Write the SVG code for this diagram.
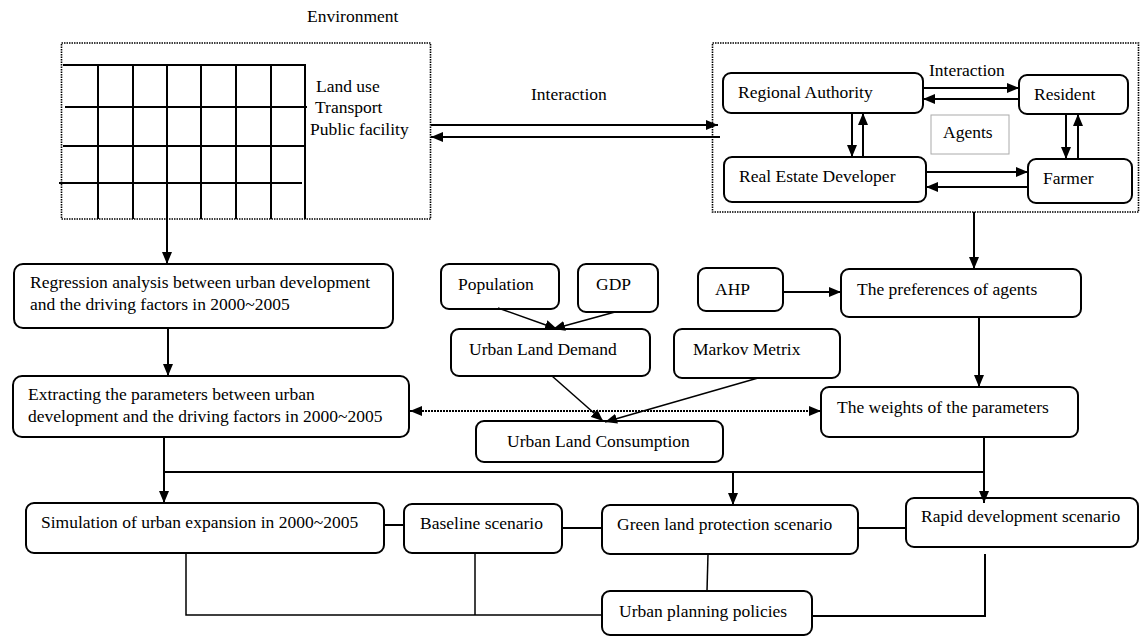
<svg xmlns="http://www.w3.org/2000/svg" width="1140" height="636" viewBox="0 0 1140 636" font-family="'Liberation Serif', 'DejaVu Serif', serif">
<style>
text{font-family:'Liberation Serif','DejaVu Serif',serif;font-size:17.5px;fill:#000}
.box{fill:#fff;stroke:#000;stroke-width:2}
.dot{fill:none;stroke:#000;stroke-width:1.6;stroke-dasharray:1.5 1}
.grid line{stroke:#000;stroke-width:2}
.c{fill:none;stroke:#000;stroke-width:2}
.t{fill:none;stroke:#000;stroke-width:1.5}
.a{marker-end:url(#ah)}
</style>
<defs>
<marker id="ah" viewBox="0 0 12 10" refX="12" refY="5" markerWidth="12" markerHeight="10" markerUnits="userSpaceOnUse" orient="auto-start-reverse"><path d="M0,0 L12,5 L0,10 z" fill="#000"/></marker>
</defs>
<rect width="1140" height="636" fill="#fff"/>

<g id="environment">
<text x="307" y="22">Environment</text>
<rect class="dot" x="61.5" y="43" width="369" height="176"/>
<g class="grid">
<line x1="63" y1="65" x2="306" y2="65"/>
<line x1="65" y1="107" x2="307" y2="107"/>
<line x1="63" y1="146" x2="305" y2="146"/>
<line x1="59" y1="183" x2="302" y2="183"/>
<line x1="98" y1="65" x2="98" y2="219"/>
<line x1="133" y1="65" x2="133" y2="219"/>
<line x1="167" y1="65" x2="167" y2="219"/>
<line x1="201" y1="65" x2="201" y2="219"/>
<line x1="236" y1="65" x2="236" y2="219"/>
<line x1="271" y1="65" x2="271" y2="219"/>
<line x1="305" y1="65" x2="305" y2="219"/>
</g>
<text x="316" y="92">Land use</text>
<text x="315" y="113">Transport</text>
<text x="310" y="135">Public facility</text>
</g>

<g id="agents-frame">
<rect class="dot" x="712.5" y="43" width="426" height="169"/>
<rect x="931" y="115" width="78" height="39" fill="#fff" stroke="#aaa" stroke-width="1"/>
<text x="943" y="138">Agents</text>
<text x="929" y="76">Interaction</text>
</g>

<g id="regional-authority"><rect class="box" x="723" y="73" width="200" height="40" rx="8"/><text x="738" y="98">Regional Authority</text></g>
<g id="resident"><rect class="box" x="1019" y="75" width="109" height="39" rx="8"/><text x="1034" y="100">Resident</text></g>
<g id="real-estate-developer"><rect class="box" x="724" y="157" width="202" height="45" rx="8"/><text x="739" y="182">Real Estate Developer</text></g>
<g id="farmer"><rect class="box" x="1028" y="159" width="104" height="44" rx="8"/><text x="1043" y="184">Farmer</text></g>

<g id="interaction-label"><text x="531" y="100">Interaction</text></g>

<g id="regression"><rect class="box" x="14" y="264" width="379" height="64" rx="9"/><text x="30" y="288">Regression analysis between urban development</text><text x="30" y="310">and the driving factors in 2000~2005</text></g>
<g id="extracting"><rect class="box" x="13" y="376" width="396" height="61" rx="9"/><text x="28" y="400">Extracting the parameters between urban</text><text x="28" y="422">development and the driving factors in 2000~2005</text></g>
<g id="population"><rect class="box" x="441" y="264" width="118" height="45" rx="8"/><text x="458" y="290">Population</text></g>
<g id="gdp"><rect class="box" x="578" y="264" width="80" height="48" rx="8"/><text x="596" y="290">GDP</text></g>
<g id="ahp"><rect class="box" x="698" y="268" width="85" height="43" rx="8"/><text x="715" y="295">AHP</text></g>
<g id="preferences"><rect class="box" x="841" y="269" width="240" height="48" rx="8"/><text x="857" y="295">The preferences of agents</text></g>
<g id="urban-land-demand"><rect class="box" x="451" y="329" width="199" height="47" rx="8"/><text x="469" y="355">Urban Land Demand</text></g>
<g id="markov"><rect class="box" x="674" y="329" width="166" height="49" rx="8"/><text x="693" y="355">Markov Metrix</text></g>
<g id="weights"><rect class="box" x="821" y="387" width="257" height="50" rx="8"/><text x="837" y="413">The weights of the parameters</text></g>
<g id="urban-land-consumption"><rect class="box" x="476" y="421" width="247" height="41" rx="8"/><text x="507" y="447">Urban Land Consumption</text></g>
<g id="simulation"><rect class="box" x="26" y="503" width="358" height="50" rx="8"/><text x="41" y="528">Simulation of urban expansion in 2000~2005</text></g>
<g id="baseline"><rect class="box" x="404" y="504" width="158" height="49" rx="8"/><text x="420" y="529">Baseline scenario</text></g>
<g id="green-land"><rect class="box" x="602" y="505" width="256" height="49" rx="8" stroke="#222" stroke-width="1.6"/><text x="617" y="530">Green land protection scenario</text></g>
<g id="rapid"><rect class="box" x="906" y="498" width="232" height="49" rx="8" stroke="#222" stroke-width="1.6"/><text x="921" y="522">Rapid development scenario</text></g>
<g id="urban-planning"><rect class="box" x="602" y="591" width="210" height="44" rx="8"/><text x="619" y="617">Urban planning policies</text></g>

<g id="connectors">
<line class="c a" x1="431" y1="125" x2="718" y2="125"/>
<line class="c a" x1="720" y1="137" x2="431" y2="137"/>
<line class="c a" x1="923" y1="88" x2="1019" y2="88"/>
<line class="c a" x1="1019" y1="99" x2="923" y2="99"/>
<line class="c a" x1="852" y1="113" x2="852" y2="157"/>
<line class="c a" x1="863" y1="157" x2="863" y2="113"/>
<line class="c a" x1="1066" y1="114" x2="1066" y2="159"/>
<line class="c a" x1="1078" y1="159" x2="1078" y2="114"/>
<line class="c a" x1="926" y1="172" x2="1028" y2="172"/>
<line class="c a" x1="1028" y1="187" x2="926" y2="187"/>
<line class="c a" x1="167" y1="219" x2="167" y2="264"/>
<line class="c a" x1="974" y1="212" x2="974" y2="269"/>
<line class="c a" x1="168" y1="328" x2="168" y2="376"/>
<line class="c a" x1="783" y1="292" x2="841" y2="292"/>
<line class="c a" x1="979" y1="317" x2="979" y2="387"/>
<line class="t a" x1="498" y1="308" x2="557" y2="329"/>
<line class="t a" x1="615" y1="312" x2="553" y2="329"/>
<line class="t a" x1="552" y1="376" x2="603" y2="421"/>
<line class="t a" x1="758" y1="378" x2="605" y2="422"/>
<line class="c a" x1="410" y1="411" x2="821" y2="411" stroke-dasharray="2 1" marker-start="url(#ah)"/>
<line class="c" x1="164" y1="437" x2="164" y2="472"/>
<line class="c" x1="984" y1="437" x2="984" y2="472"/>
<line class="c" x1="164" y1="472" x2="984" y2="472"/>
<line class="c a" x1="164" y1="472" x2="164" y2="503"/>
<line class="c a" x1="733" y1="472" x2="733" y2="505"/>
<line class="c a" x1="984" y1="472" x2="984" y2="503"/>
<line class="c" x1="384" y1="525" x2="404" y2="525"/>
<line class="c" x1="562" y1="528" x2="602" y2="528"/>
<line class="c" x1="858" y1="528" x2="906" y2="528"/>
<polyline class="t" points="186,553 186,615 602,615"/>
<line class="t" x1="475" y1="553" x2="475" y2="615"/>
<line class="t" x1="708" y1="554" x2="707" y2="591"/>
<polyline class="c" points="812,616 985,616 985,554"/>
</g>
</svg>
